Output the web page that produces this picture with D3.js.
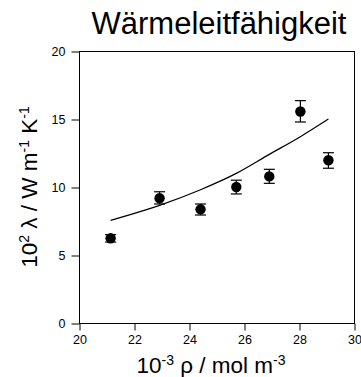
<!DOCTYPE html>
<html>
<head>
<meta charset="utf-8">
<script src="https://cdn.jsdelivr.net/npm/d3@7"></script>
<style>
    body { margin: 0; background: #fff; }
    text { font-family: Arial, "Liberation Sans", sans-serif; fill: #000; }
</style>
</head>
<body>
<div id="chart"></div>
<script>
// measured points (density, conductivity, error bar low / high)
var density = [21.15, 22.93, 24.42, 25.72, 26.92, 28.05, 29.07];
var conductivity = [6.23, 9.17, 8.36, 10.0, 10.78, 15.55, 11.97];
var errLow = [5.95, 8.75, 7.94, 9.49, 10.27, 14.78, 11.38];
var errHigh = [6.5, 9.65, 8.75, 10.5, 11.3, 16.35, 12.52];

// model curve
var modelDensity = [21.15, 22.93, 24.42, 25.72, 26.92, 28.05, 29.07];
var modelValue = [7.55, 8.65, 9.8, 11.0, 12.4, 13.7, 15.0];

var xTicks = [20, 22, 24, 26, 28, 30];
var yTicks = [0, 5, 10, 15, 20];

var width = 361, height = 377;
var plotLeft = 79, plotRight = 354, plotTop = 51, plotBottom = 323;

var svg = d3.select('#chart')
    .append('svg')
    .attr('width', width)
    .attr('height', height);

var x = d3.scaleLinear().domain([20, 30]).range([plotLeft, plotRight]);
var y = d3.scaleLinear().domain([0, 20]).range([plotBottom, plotTop]);

// frame
svg.append('rect')
    .attr('x', plotLeft + 0.5).attr('y', plotTop + 0.5)
    .attr('width', plotRight - plotLeft).attr('height', plotBottom - plotTop)
    .attr('fill', 'none')
    .attr('stroke', '#000')
    .attr('stroke-width', 1);

// axes
var xAxis = svg.append('g')
    .attr('transform', 'translate(0.5,' + (plotBottom + 0.5) + ')')
    .call(d3.axisBottom(x).tickValues(xTicks).tickSize(7).tickPadding(5));
var yAxis = svg.append('g')
    .attr('transform', 'translate(' + (plotLeft + 0.5) + ',0.5)')
    .call(d3.axisLeft(y).tickValues(yTicks).tickSize(8).tickPadding(6));
[xAxis, yAxis].forEach(function (a) {
    a.select('.domain').remove();
    a.selectAll('text')
        .style('font-size', '12.5px')
        .style('font-family', 'Arial, "Liberation Sans", sans-serif')
        .attr('fill', '#000');
    a.selectAll('line').attr('stroke', '#000');
});

// model line
var line = d3.line()
    .x(function (d, i) { return x(modelDensity[i]); })
    .y(function (d) { return y(d); })
    .curve(d3.curveMonotoneX);
svg.append('path')
    .datum(modelValue)
    .attr('d', line)
    .attr('fill', 'none')
    .attr('stroke', '#000')
    .attr('stroke-width', 1.2);

// error bars
var eb = svg.append('g').attr('stroke', '#000').attr('stroke-width', 1.2);
density.forEach(function (d, i) {
    var cx = x(d);
    eb.append('line').attr('x1', cx).attr('x2', cx).attr('y1', y(errLow[i])).attr('y2', y(errHigh[i]));
    eb.append('line').attr('x1', cx - 5.5).attr('x2', cx + 5.5).attr('y1', y(errLow[i])).attr('y2', y(errLow[i]));
    eb.append('line').attr('x1', cx - 5.5).attr('x2', cx + 5.5).attr('y1', y(errHigh[i])).attr('y2', y(errHigh[i]));
});

// points
svg.append('g').selectAll('circle')
    .data(conductivity)
    .enter().append('circle')
    .attr('cx', function (d, i) { return x(density[i]); })
    .attr('cy', function (d) { return y(d); })
    .attr('r', 5.2)
    .attr('fill', '#000');

// title
svg.append('text')
    .attr('x', 219).attr('y', 34)
    .attr('text-anchor', 'middle')
    .style('font-size', '31px')
    .text('Wärmeleitfähigkeit');

// helper for labels with superscripts
function addParts(t, parts, supSize) {
    parts.forEach(function (p) {
        var s = t.append('tspan').text(p[0]);
        if (p[1]) {
            s.attr('baseline-shift', 'super').style('font-size', supSize);
        }
    });
}

var xl = svg.append('text')
    .attr('x', 211).attr('y', 373)
    .attr('text-anchor', 'middle')
    .style('font-size', '22.5px');
addParts(xl, [['10'], ['-3', true], [' ρ / mol m'], ['-3', true]], '14px');

var yl = svg.append('text')
    .attr('transform', 'translate(37,187) rotate(-90)')
    .attr('text-anchor', 'middle')
    .style('font-size', '22.5px');
addParts(yl, [['10'], ['2', true], [' λ / W m'], ['-1', true], [' K'], ['-1', true]], '14px');
</script>
</body>
</html>
